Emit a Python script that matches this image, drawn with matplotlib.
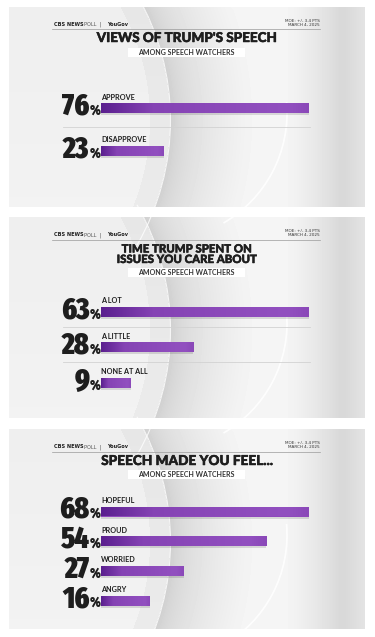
import os
import numpy as np
import matplotlib.pyplot as plt
import matplotlib.patheffects as pe
from matplotlib import font_manager as fm
from matplotlib.patches import Rectangle, Arc
from matplotlib.colors import LinearSegmentedColormap
from matplotlib.transforms import offset_copy

W, H = 375, 637

# data for the three cards
titles = [["VIEWS OF TRUMP'S SPEECH"],
          ["TIME TRUMP SPENT ON", "ISSUES YOU CARE ABOUT"],
          ["SPEECH MADE YOU FEEL..."]]
subtitle = "AMONG SPEECH WATCHERS"
labels_1 = ["APPROVE", "DISAPPROVE"]
values_1 = [76, 23]
labels_2 = ["A LOT", "A LITTLE", "NONE AT ALL"]
values_2 = [63, 28, 9]
labels_3 = ["HOPEFUL", "PROUD", "WORRIED", "ANGRY"]
values_3 = [68, 54, 27, 16]
moe_text = "MOE: +/- 3.4 PTS\nMARCH 4, 2025"

# layout in pixels
cards = [
    dict(top=7, bot=207, rule=29, tys=[38], tsize=9.7, box=(48, 57), row0=108, step=43, sep=True),
    dict(top=217, bot=418, rule=240, tys=[249, 259.5], tsize=8.2, box=(268, 277), row0=312, step=35.5, sep=True),
    dict(top=429, bot=629, rule=452, tys=[461], tsize=9.8, box=(470, 479), row0=511.5, step=29.7, sep=False),
]
all_labels = [labels_1, labels_2, labels_3]
all_values = [values_1, values_2, values_3]

BAR_X0, BAR_X1, BAR_H = 101, 309, 10
TXT = "#1e1e1e"


def find_font(scorer, fallback):
    best, best_s = None, 0
    for f in fm.fontManager.ttflist:
        s = scorer(os.path.basename(f.fname))
        if s > best_s:
            best, best_s = f.fname, s
    if best is None:
        return fm.FontProperties(family=fallback, weight="bold")
    return fm.FontProperties(fname=best)


def cond_score(n):
    if "Italic" in n or "Oblique" in n:
        return 0
    s = 0
    if "ExtraCondensed" in n:
        s += 4
    elif "SemiCondensed" in n:
        s += 1
    elif "Condensed" in n or "Narrow" in n:
        s += 3
    else:
        return 0
    if "ExtraBold" in n or "Black" in n:
        s += 3
    elif "SemiBold" in n:
        s += 1
    elif "Bold" in n:
        s += 2
    else:
        return 0
    return s


def ranked(keys):
    def score(n):
        for i, key in enumerate(keys):
            if n.startswith(key + "."):
                return 50 - i
        return 0
    return score


title_fp = find_font(ranked(["NotoSans-Black", "NotoSans-ExtraBold", "Lato-Black", "Lato-Heavy",
                             "Inter-Black", "Roboto-Black", "OpenSans-ExtraBold", "Lato-Bold"]), "Lato")
label_fp = find_font(ranked(["NotoSans-ExtraBold", "NotoSans-Bold", "Lato-Bold"]), "Lato")
num_fp = find_font(cond_score, "DejaVu Sans")

fig = plt.figure(figsize=(W / 100, H / 100), dpi=100)
fig.patch.set_facecolor("white")
bg = fig.add_axes([0, 0, 1, 1])
bg.set_xlim(0, W)
bg.set_ylim(H, 0)
bg.axis("off")


def fig_rect(x0, y0, x1, y1):
    return [x0 / W, 1 - y1 / H, (x1 - x0) / W, (y1 - y0) / H]


bar_cmap = LinearSegmentedColormap.from_list(
    "bar", [(0, "#5a1f8e"), (0.25, "#8543b4"), (0.9, "#9250c0"), (1, "#8a48b8")])

# crescent backdrop (panel-relative geometry)
A_c, A_r = (-80, 113), 250
B_c, B_r = (160, 106), 127

for k, c in enumerate(cards):
    top, bot = c["top"], c["bot"]
    xs = np.arange(9, 365) + 0.5
    ys = np.arange(top, bot) + 0.5
    X, Y = np.meshgrid(xs, ys - top)
    dA = np.hypot(X - A_c[0], Y - A_c[1]) - A_r
    dB = np.hypot(X - B_c[0], Y - B_c[1]) - B_r
    img = 0.935 + 0.015 * (Y / 200) - 0.03 * np.clip(dA / -20 + 1, 0, 1) * (dA > -20)
    cres = (dA > 0) & (dB < 0)
    img = np.where(cres, 0.80 + 0.16 * np.clip(dA / 85, 0, 1) ** 0.55, img)
    right = (dA > 0) & (dB >= 0)
    xr = np.clip((X - 285) / 55, 0, 1)
    img = np.where(right, 0.96 - 0.11 * xr ** 1.3 + 0.04 * np.clip((X - 345) / 20, 0, 1), img)
    bg.imshow(img, cmap="gray", vmin=0, vmax=1, extent=(9, 365, bot, top),
              aspect="auto", interpolation="bilinear", zorder=0)
    bg.add_patch(Arc((A_c[0], A_c[1] + top), 2 * A_r + 1, 2 * A_r + 1, theta1=-30, theta2=30,
                     color="white", lw=0.8, alpha=0.8, zorder=1))
    bg.add_patch(Arc((B_c[0], B_c[1] + top), 2 * B_r, 2 * B_r, theta1=-5, theta2=60,
                     color="white", lw=1.2, alpha=0.9, zorder=1))

    # header
    bg.plot([52, 320], [c["rule"], c["rule"]], color="#9a9a9a", lw=0.5)
    bg.text(54, c["rule"] - 3.5, "CBS NEWS", fontsize=3.6, fontweight="bold", color=TXT,
            family="DejaVu Sans", va="baseline")
    bg.text(84, c["rule"] - 3.5, "POLL  |", fontsize=3.6, color="#555", family="DejaVu Sans",
            va="baseline")
    bg.text(107, c["rule"] - 3.5, "YouGov", fontsize=3.6, fontweight="bold", color=TXT,
            family="DejaVu Sans", va="baseline")
    bg.text(320, c["rule"] - 2.5, moe_text, fontsize=3.0, color="#333", family="DejaVu Sans",
            ha="right", va="bottom", linespacing=1.0)

    # title
    for t, ty in zip(titles[k], c["tys"]):
        bg.text(187, ty, t, fontproperties=title_fp, fontsize=c["tsize"],
                color=TXT, ha="center", va="center",
                path_effects=[pe.withStroke(linewidth=0.35, foreground=TXT)])
    y0, y1 = c["box"]
    bg.add_patch(Rectangle((128, y0), 117, y1 - y0, facecolor="white", edgecolor="none"))
    bg.text(186.5, (y0 + y1) / 2 + 0.3, subtitle, fontproperties=label_fp, fontsize=5.0,
            color="#333", ha="center", va="center")

    # bars
    labels, values = all_labels[k], all_values[k]
    n = len(values)
    step = c["step"]
    ya = c["row0"] - step / 2
    yb = c["row0"] + step * (n - 0.5)
    ax = fig.add_axes(fig_rect(BAR_X0, ya, BAR_X1, yb))
    ax.patch.set_alpha(0)
    ax.axis("off")
    h = BAR_H / step
    ypos = np.arange(n)
    ax.barh(ypos + 2.0 / step, values, height=h, color="black", alpha=0.12)
    bars = ax.barh(ypos, values, height=h, color="#8e48bb")
    grad = np.linspace(0, 1, 256).reshape(1, -1)
    for b, v in zip(bars, values):
        im = ax.imshow(grad, cmap=bar_cmap, aspect="auto",
                       extent=(0, v, b.get_y() + h, b.get_y()), zorder=3)
        im.set_clip_path(b)
    ax.set_xlim(0, max(values))
    ax.set_ylim(n - 0.5, -0.5)

    if c["sep"]:
        for i in range(n - 1):
            yl = c["row0"] + step * (i + 0.5) - 3
            bg.plot([63, 310], [yl, yl], color="#d2d2d2", lw=0.6)

    lab_tr = offset_copy(ax.transData, fig=fig, x=0, y=8.5, units="dots")
    pct_tr = offset_copy(ax.transData, fig=fig, x=-11, y=-6.5, units="dots")
    num_tr = offset_copy(ax.transData, fig=fig, x=-11.5, y=-6.5, units="dots")
    for i, (lab, v) in enumerate(zip(labels, values)):
        ax.text(0, i, lab, transform=lab_tr, fontproperties=label_fp, fontsize=5.2,
                color=TXT, ha="left", va="baseline")
        ax.text(0, i, f"{v}", transform=num_tr, fontproperties=num_fp, fontsize=21.5,
                color=TXT, ha="right", va="baseline")
        ax.text(0, i, "%", transform=pct_tr, fontproperties=num_fp, fontsize=10.5,
                color=TXT, ha="left", va="baseline")

fig.savefig("out.png", dpi=100, facecolor="white")
